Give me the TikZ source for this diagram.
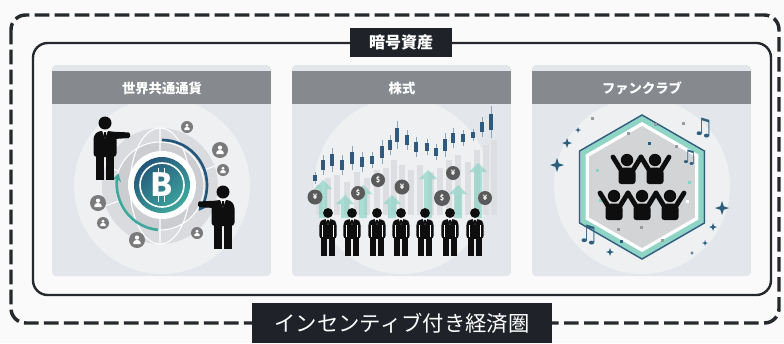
\documentclass[tikz,border=0pt]{standalone}
\usepackage{fontspec}
\setmainfont{Noto Sans CJK JP}
\newfontfamily\symfont{DejaVu Sans}
\usetikzlibrary{arrows.meta}

\definecolor{paper}{HTML}{FAFAFA}
\definecolor{labeldark}{HTML}{1F2329}
\definecolor{framedark}{HTML}{25292E}
\definecolor{headergray}{HTML}{868A8F}
\definecolor{panelbody}{HTML}{E3E6EA}
\definecolor{panelglow}{HTML}{EEF0F2}
\definecolor{ink}{HTML}{0E0E0E}
\definecolor{icongray}{HTML}{7A7A7A}
\definecolor{coingray}{HTML}{5A5A5A}
\definecolor{globegray}{HTML}{DADBDE}
\definecolor{globedark}{HTML}{CBCDD0}
\definecolor{coinblue}{HTML}{24557A}
\definecolor{cointeal}{HTML}{3FA89E}
\definecolor{risegreen}{HTML}{86D3C3}
\definecolor{candleblue}{HTML}{2F5A7E}
\definecolor{wickgray}{HTML}{8EA3B4}
\definecolor{barlight}{HTML}{DCDEE1}
\definecolor{hexblue}{HTML}{2E5E7E}
\definecolor{hexteal}{HTML}{8FD5C6}
\definecolor{hexgray}{HTML}{D3D4D6}
\definecolor{confgray}{HTML}{9A9A9E}

\tikzset{
  dashframe/.style={draw=framedark, line width=2.6pt, dash pattern=on 11pt off 4pt, rounded corners=11pt},
  solidframe/.style={draw=framedark, line width=1.8pt, rounded corners=11pt},
  tab/.style={fill=labeldark, text=white, font=\bfseries\fontsize{12}{12}\selectfont, inner sep=0pt},
  banner/.style={fill=labeldark, text=white, font=\fontsize{16}{16}\selectfont, inner sep=0pt,
    minimum width=225pt, minimum height=30pt},
  headtext/.style={text=white, font=\bfseries\fontsize{10}{10}\selectfont},
  coinsign/.style={text=white, font=\bfseries\fontsize{5.5}{5.5}\selectfont, inner sep=0pt},
  note/.style={text=hexblue, font=\symfont\fontsize{18}{18}\selectfont, inner sep=0pt},
}

% man in a suit, #1 head centre, #2 size, #3 facing, #4 pointing arm (1 or 0)
\newcommand{\suitman}[4]{%
  \begin{scope}[shift={#1}, scale=#2, xscale=#3]
    \fill[ink] (0,0) circle (6.5);
    \fill[ink, rounded corners=2.5pt] (-11.5,34) -- (-11.5,13) -- (-7,8) -- (7,8) -- (11.5,13) -- (11.5,34) -- cycle;
    \fill[ink] (-9,31) rectangle (-0.9,57);
    \fill[ink] (0.9,31) rectangle (9,57);
    \fill[white] (-2.8,8) -- (2.8,8) -- (0,15.5) -- cycle;
    \fill[ink] (-1,9) -- (1,9) -- (1.2,13) -- (0,16) -- (-1.2,13) -- cycle;
    \ifnum#4=1
      \fill[ink, rounded corners=1pt] (4,8.5) -- (25,9.5) -- (25,15) -- (9,16) -- cycle;
    \else
      \draw[white, line width=0.4pt] (-7.5,16) -- (-7.5,32) (7.5,16) -- (7.5,32);
    \fi
  \end{scope}}

% small user badge
\newcommand{\usericon}[2]{%
  \begin{scope}[shift={#1}, scale=#2]
    \fill[icongray] (0,0) circle (1);
    \fill[white] (0,-0.3) circle (0.27);
    \fill[white] (-0.45,0.5) -- (-0.45,0.3) arc[start angle=180, end angle=360, x radius=0.45, y radius=0.3] -- (0.45,0.5) -- cycle;
  \end{scope}}

% cheering fan
\newcommand{\cheer}[1]{%
  \begin{scope}[shift={#1}]
    \fill[ink] (0,0) circle (6.2);
    \draw[ink, line width=3.6pt, line cap=round] (-6,10) -- (-14,-3) (6,10) -- (14,-3);
    \fill[ink, rounded corners=2pt] (-8.5,24) -- (-8.5,10) -- (-5,7.5) -- (5,7.5) -- (8.5,10) -- (8.5,24) -- cycle;
  \end{scope}}

% four point sparkle
\newcommand{\sparkle}[3]{%
  \fill[#3, shift={#1}, scale=#2] (0,-1) -- (0.25,-0.25) -- (1,0) -- (0.25,0.25) -- (0,1) -- (-0.25,0.25) -- (-1,0) -- (-0.25,-0.25) -- cycle;}

% coin with a currency sign
\newcommand{\money}[3]{%
  \fill[coingray] #1 circle (#2);
  \node[coinsign] at #1 {#3};}

% rising arrow behind the crowd
\newcommand{\risearrow}[2]{%
  \fill[risegreen, opacity=0.65] (#1-4,218) -- (#1-4,#2+9) -- (#1-9,#2+9) -- (#1,#2) -- (#1+9,#2+9) -- (#1+4,#2+9) -- (#1+4,218) -- cycle;}

\begin{document}
\begin{tikzpicture}[x=0.75pt, y=-0.75pt]
  \fill[paper] (0,0) rectangle (784,343);
  \useasboundingbox (0,0) rectangle (784,343);

  %% FRAMES
  \draw[dashframe] (11,15) rectangle (779,323);
  \draw[solidframe] (33,43) rectangle (771,295);
  \node[tab, minimum width=76.5pt, minimum height=21.75pt] (assets) at (401,42.5) {暗号資産};
  \node[banner] (economy) at (402,323) {インセンティブ付き経済圏};

  %% PANELS
  \foreach \px in {52, 292, 532} {
    \fill[panelbody, rounded corners=3pt] (\px,65) rectangle (\px+219,276);
    \fill[headergray] (\px,71) rectangle (\px+219,104);
    \begin{scope}
      \clip (\px,104) rectangle (\px+219,276);
      \fill[panelglow] (\px+110,186) circle (88);
    \end{scope}
  }
  \node[headtext] (currency) at (162,88) {世界共通通貨};
  \node[headtext] (stock) at (402,88) {株式};
  \node[headtext] (fanclub) at (642,88) {ファンクラブ};

  %% CURRENCY
  % globe
  \fill[globegray] (160,186) circle (58);
  \fill[globedark] (160,186) circle (44);
  \draw[white, line width=0.8pt] (160,128) -- (160,244)
    (160,186) ellipse [x radius=30, y radius=58]
    (160,186) circle (44);
  \foreach \a in {20, 160, 200, 340}
    \draw[white, line width=0.8pt] (160,186) ++(\a:44) -- ++(\a:14);
  % coin
  \fill[white] (162,185) circle (34);
  \shade[top color=coinblue, bottom color=cointeal, shading angle=40] (162,185) circle (28);
  \draw[white, line width=1.2pt] (162,185) circle (22);
  \node[text=white, font=\bfseries\fontsize{24}{24}\selectfont, inner sep=0pt] (btc) at (162,185) {B};
  \draw[white, line width=1.4pt] (158.5,174) -- (158.5,168) (164.5,174) -- (164.5,168)
    (158.5,196) -- (158.5,202) (164.5,196) -- (164.5,202);
  % exchange arrows
  \draw[coinblue, line width=2pt, -{Stealth[length=6pt, width=7pt]}] (162,185) ++(-90:45) arc[start angle=-90, end angle=35, radius=45];
  \draw[cointeal, line width=2pt, -{Stealth[length=6pt, width=7pt]}] (162,185) ++(95:45) arc[start angle=95, end angle=195, radius=45];
  % users
  \usericon{(187,127)}{6}
  \usericon{(220,150)}{8}
  \usericon{(223,170)}{6}
  \usericon{(98,203)}{8}
  \usericon{(103,223)}{6}
  \usericon{(137,240)}{8}
  \usericon{(197,233)}{6}
  % traders
  \suitman{(105,123)}{1}{1}{1}
  \suitman{(223,192)}{1}{-1}{1}

  %% STOCK
  \foreach \x/\t in {319/185, 328/178, 337/175, 347/182, 357/172, 367/178, 377/170, 386/168, 394/160, 402/165,
                     411/170, 420/165, 431/172, 440/168, 449/160, 458/155, 468/162, 477/150, 486/145, 494/140}
    \fill[barlight] (\x-3,\t) rectangle (\x+3,215);
  \foreach \x/\y/\h in {315/178/6, 323/165/10, 332/160/12, 342/165/10, 352/158/12, 362/162/10, 372/160/8,
                        382/152/12, 390/145/10, 397/135/14, 407/140/10, 416/147/10, 427/147/8, 436/152/8,
                        445/145/12, 453/138/10, 463/138/8, 473/135/6, 482/127/10, 491/122/16} {
    \draw[wickgray, line width=0.5pt] (\x,\y-\h) -- (\x,\y+\h);
    \fill[candleblue] (\x-1.6,\y-\h/2) rectangle (\x+1.6,\y+\h/2);
  }
  \risearrow{323}{180}
  \risearrow{345}{195}
  \risearrow{363}{185}
  \risearrow{392}{195}
  \risearrow{428}{170}
  \risearrow{458}{185}
  \risearrow{478}{163}
  \money{(315,197)}{7.5}{¥}
  \money{(358,193)}{7}{\$}
  \money{(378,180)}{7}{\$}
  \money{(402,187)}{7.5}{¥}
  \money{(442,198)}{8}{\$}
  \money{(453,173)}{7}{¥}
  \money{(485,198)}{7}{¥}
  \foreach \x in {328, 352, 377, 401, 425, 450, 475} {
    \suitman{(\x,213)}{0.76}{1}{0}
  }

  %% FAN CLUB
  \begin{scope}[shift={(642,187)}]
    \fill[hexteal] (30:71) -- (90:71) -- (150:71) -- (210:71) -- (270:71) -- (330:71) -- cycle;
    \draw[hexblue, line width=1.1pt] (30:72) -- (90:72) -- (150:72) -- (210:72) -- (270:72) -- (330:72) -- cycle;
    \fill[white] (30:65) -- (90:65) -- (150:65) -- (210:65) -- (270:65) -- (330:65) -- cycle;
    \fill[hexgray] (30:61) -- (90:61) -- (150:61) -- (210:61) -- (270:61) -- (330:61) -- cycle;
  \end{scope}
  \foreach \x/\y/\c in {655/124/confgray, 628/133/confgray, 649/143/hexblue, 597/170/risegreen, 676/146/confgray,
                        689/182/risegreen, 618/229/confgray, 641/227/confgray, 662/240/confgray, 621/241/hexblue,
                        600/200/risegreen, 687/201/white, 592/118/confgray, 683/123/confgray}
    \fill[\c] (\x-1.5,\y-1.5) rectangle (\x+1.5,\y+1.5);
  \cheer{(627,160)}
  \cheer{(655,160)}
  \cheer{(614,196)}
  \cheer{(642,196)}
  \cheer{(670,196)}
  \sparkle{(578,130)}{3}{hexblue}
  \sparkle{(567,143)}{5}{hexblue}
  \sparkle{(557,165)}{7}{hexblue}
  \sparkle{(722,208)}{7}{hexblue}
  \sparkle{(713,227)}{4}{hexblue}
  \sparkle{(705,243)}{3}{hexblue}
  \sparkle{(610,252)}{4}{hexblue}
  \sparkle{(692,253)}{2}{hexblue}
  \node[note] (noteA) at (703,128) {♫};
  \node[note, font=\symfont\fontsize{14}{14}\selectfont] (noteB) at (689,158) {♫};
  \node[note] (noteC) at (588,235) {♫};
\end{tikzpicture}
\end{document}
